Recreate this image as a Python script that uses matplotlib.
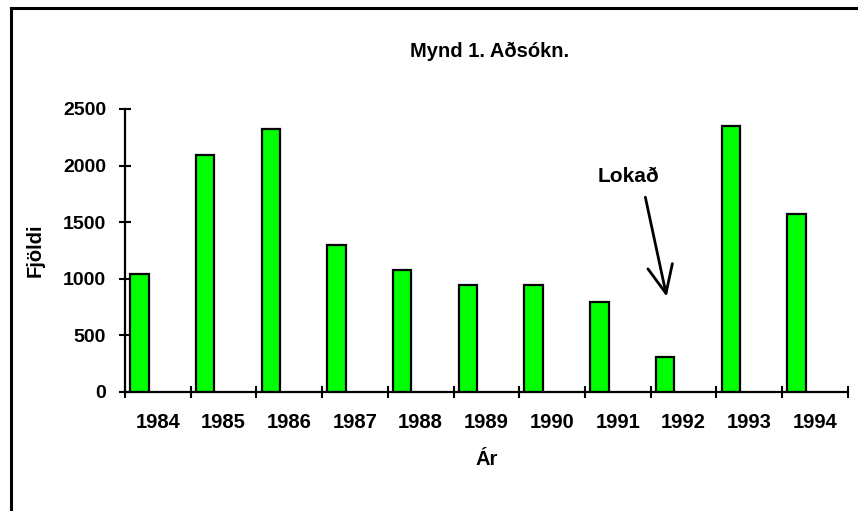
import matplotlib
matplotlib.use('Agg')
import matplotlib.pyplot as plt
import numpy as np
from matplotlib.lines import Line2D

# data
years = ['1984', '1985', '1986', '1987', '1988', '1989', '1990', '1991', '1992', '1993', '1994']
counts = [1040, 2095, 2320, 1295, 1080, 940, 940, 790, 305, 2350, 1575]

# annotation for the closed year
note_text = 'Lokað'
note_text_pos = (7.67, 1900)
note_tail = (7.92, 1720)
note_tip = (8.245, 840)

plt.rcParams['font.family'] = ['Liberation Sans', 'DejaVu Sans']
plt.rcParams['font.weight'] = 'bold'

fig = plt.figure(figsize=(8.58, 5.11), dpi=100)
ax = fig.add_axes([125 / 858, 1 - 391.7 / 511, (847.7 - 125) / 858, (391.7 - 109) / 511])

x = np.arange(len(years))
ax.bar(x + 0.08, counts, width=0.28, align='edge', color='#00FF00',
       edgecolor='black', linewidth=1.6, zorder=3)

ax.set_xlim(0, len(years))
ax.set_ylim(0, 2500)

# major ticks on category boundaries, labels on category centres
ax.set_xticks(np.arange(len(years) + 1))
ax.set_xticklabels([])
ax.set_xticks(x + 0.5, minor=True)
ax.set_xticklabels(years, minor=True, fontsize=14.5, fontweight='bold')
ax.tick_params(axis='x', which='major', direction='inout', length=9, width=1.5)
ax.tick_params(axis='x', which='minor', length=0, pad=15)

ax.set_yticks(np.arange(0, 2501, 500))
ax.tick_params(axis='y', direction='inout', length=9, width=1.5, labelsize=14, pad=9)
for lbl in ax.get_yticklabels():
    lbl.set_fontweight('bold')

for side in ['top', 'right']:
    ax.spines[side].set_visible(False)
for side in ['left', 'bottom']:
    ax.spines[side].set_linewidth(1.6)

ax.set_xlabel('Ár', fontsize=14.5, fontweight='bold', labelpad=13)
ax.set_ylabel('Fjöldi', fontsize=14.5, fontweight='bold', labelpad=13)
fig.text(490 / 858, 1 - 51 / 511, 'Mynd 1. Aðsókn.', ha='center', va='center',
         fontsize=14.5, fontweight='bold')

ax.annotate('', xy=note_tip, xytext=note_tail,
            arrowprops=dict(arrowstyle='->,head_length=2.0,head_width=0.9',
                            lw=2, color='black', mutation_scale=10,
                            shrinkA=0, shrinkB=0))
ax.text(note_text_pos[0], note_text_pos[1], note_text, ha='center', va='center',
        fontsize=15, fontweight='bold')

# outer frame, only top and left visible inside the picture
fig.add_artist(Line2D([10.5 / 858, 1], [1 - 8.5 / 511, 1 - 8.5 / 511],
                      transform=fig.transFigure, color='black', lw=2.2))
fig.add_artist(Line2D([10.5 / 858, 10.5 / 858], [0, 1 - 8.5 / 511],
                      transform=fig.transFigure, color='black', lw=2.2))

fig.savefig('out.png', dpi=100)
